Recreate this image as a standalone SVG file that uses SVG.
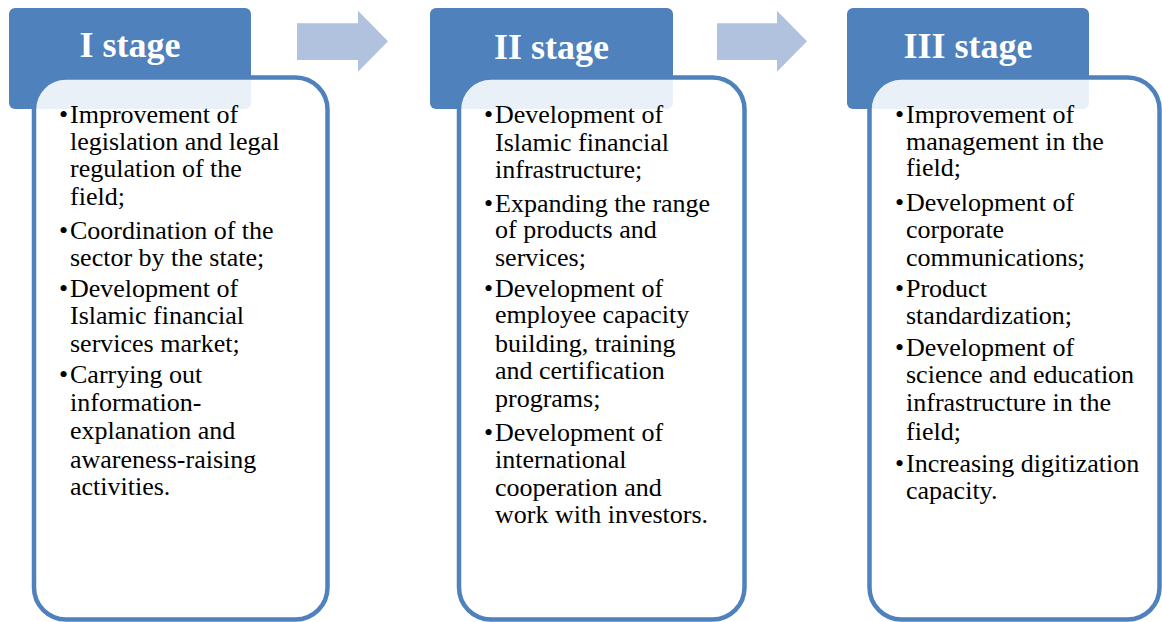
<svg xmlns="http://www.w3.org/2000/svg" width="1162" height="622" viewBox="0 0 1162 622">
  <style>
    .head { fill: #4F81BD; }
    .body { fill: #FFFFFF; fill-opacity: 0.88; stroke: #4F81BD; stroke-width: 4.5; }
    .title { font-family: "Liberation Serif", "Times New Roman", serif; font-size: 36px; font-weight: bold; fill: #FFFFFF; text-anchor: middle; }
    .item text { font-family: "Liberation Serif", "Times New Roman", serif; font-size: 26px; fill: #000000; }
    .arrow { fill: #B0C2DE; }
  </style>
  <rect width="1162" height="622" fill="#FFFFFF"/>

  <!-- stage I -->
  <g id="stage-1">
    <rect class="head" x="9" y="8" width="242" height="101" rx="6"/>
    <text class="title" x="130" y="57">I stage</text>
    <rect class="body" x="34" y="77.5" width="293.5" height="542" rx="32"/>
    <g class="item">
      <text x="59" y="122.7">•</text>
      <text x="70" y="122.7">Improvement of</text>
      <text x="70" y="149.5">legislation and legal</text>
      <text x="70" y="176.5">regulation of the</text>
      <text x="70" y="205">field;</text>
      <text x="59" y="239.3">•</text>
      <text x="70" y="239.3">Coordination of the</text>
      <text x="70" y="266">sector by the state;</text>
      <text x="59" y="296.7">•</text>
      <text x="70" y="296.7">Development of</text>
      <text x="70" y="324">Islamic financial</text>
      <text x="70" y="351.7">services market;</text>
      <text x="59" y="383.3">•</text>
      <text x="70" y="383.3">Carrying out</text>
      <text x="70" y="411">information-</text>
      <text x="70" y="439">explanation and</text>
      <text x="70" y="467.5">awareness-raising</text>
      <text x="70" y="495">activities.</text>
    </g>
  </g>

  <!-- stage II -->
  <g id="stage-2">
    <rect class="head" x="430" y="8" width="243" height="101" rx="6"/>
    <text class="title" x="551.5" y="59">II stage</text>
    <rect class="body" x="459" y="77.5" width="285.5" height="542" rx="32"/>
    <g class="item">
      <text x="484" y="123.3">•</text>
      <text x="495" y="123.3">Development of</text>
      <text x="495" y="150.5">Islamic financial</text>
      <text x="495" y="177.5">infrastructure;</text>
      <text x="484" y="211.7">•</text>
      <text x="495" y="211.7">Expanding the range</text>
      <text x="495" y="238.3">of products and</text>
      <text x="495" y="266">services;</text>
      <text x="484" y="296.7">•</text>
      <text x="495" y="296.7">Development of</text>
      <text x="495" y="323.3">employee capacity</text>
      <text x="495" y="351.7">building, training</text>
      <text x="495" y="379">and certification</text>
      <text x="495" y="406.7">programs;</text>
      <text x="484" y="440.7">•</text>
      <text x="495" y="440.7">Development of</text>
      <text x="495" y="468.3">international</text>
      <text x="495" y="496">cooperation and</text>
      <text x="495" y="522.7">work with investors.</text>
    </g>
  </g>

  <!-- stage III -->
  <g id="stage-3">
    <rect class="head" x="847" y="8" width="242" height="101" rx="6"/>
    <text class="title" x="968" y="58">III stage</text>
    <rect class="body" x="869.5" y="77.5" width="290" height="542" rx="32"/>
    <g class="item">
      <text x="895" y="123.3">•</text>
      <text x="906" y="123.3">Improvement of</text>
      <text x="906" y="149.5">management in the</text>
      <text x="906" y="176">field;</text>
      <text x="895" y="210.7">•</text>
      <text x="906" y="210.7">Development of</text>
      <text x="906" y="238.3">corporate</text>
      <text x="906" y="266">communications;</text>
      <text x="895" y="296.7">•</text>
      <text x="906" y="296.7">Product</text>
      <text x="906" y="324">standardization;</text>
      <text x="895" y="356">•</text>
      <text x="906" y="356">Development of</text>
      <text x="906" y="383.3">science and education</text>
      <text x="906" y="411">infrastructure in the</text>
      <text x="906" y="440">field;</text>
      <text x="895" y="471.7">•</text>
      <text x="906" y="471.7">Increasing digitization</text>
      <text x="906" y="499">capacity.</text>
    </g>
  </g>

  <!-- block arrows between stages -->
  <g id="connectors">
    <polygon class="arrow" points="297,23.3 358,23.3 358,10.7 388,41.3 358,71.7 358,60 297,60"/>
    <polygon class="arrow" points="717,23.3 777,23.3 777,10.7 807,41.3 777,71.7 777,60 717,60"/>
  </g>
</svg>
